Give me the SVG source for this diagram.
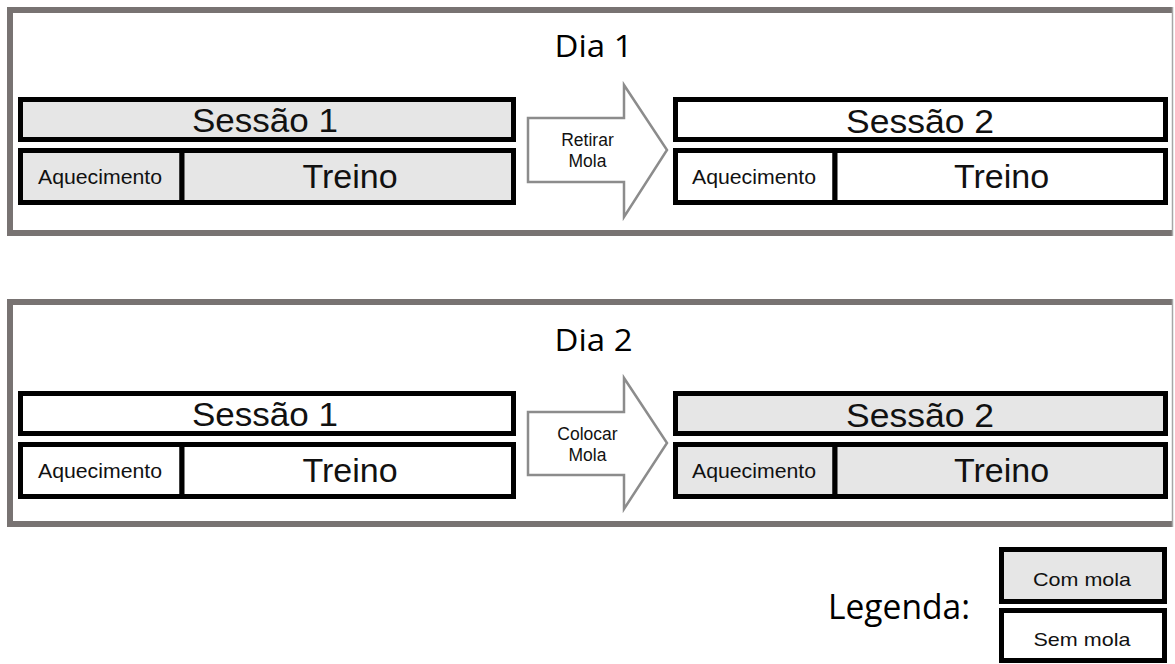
<svg xmlns="http://www.w3.org/2000/svg" width="1175" height="664" viewBox="0 0 1175 664">
<style>
.frame{fill:none;stroke:#787372;stroke-width:6}
.edge{stroke:#a6a6a6;stroke-width:1.5}
.on{fill:#e6e6e6;stroke:#000;stroke-width:5}
.off{fill:#fff;stroke:#000;stroke-width:5}
.arrow{fill:#fff;stroke:#8c8c8c;stroke-width:2.5;stroke-linejoin:miter}
.t{font-family:"Liberation Sans",Arial,sans-serif;fill:#111;text-anchor:middle}
.day{font-family:"Open Sans","Noto Sans",sans-serif;font-size:31px;fill:#000;text-anchor:middle}
.s{font-size:33px}
.tr{font-size:34px}
.aq{font-size:20px}
.ar{font-size:17.5px}
.lg{font-size:19px}
</style>
<rect width="1175" height="664" fill="#fff"/>
<g id="dia1">
<path class="frame" d="M1172,10 H10 V233 H1172"/>
<line class="edge" x1="1172.5" y1="7" x2="1172.5" y2="236"/>
<text class="day" x="593.5" y="57" textLength="78" lengthAdjust="spacingAndGlyphs">Dia 1</text>
</g>
<g id="dia2">
<path class="frame" d="M1172,302 H10 V524 H1172"/>
<line class="edge" x1="1172.5" y1="299" x2="1172.5" y2="527"/>
<text class="day" x="593.5" y="351" textLength="78" lengthAdjust="spacingAndGlyphs">Dia 2</text>
</g>
<g id="d1-sessao1">
<rect class="on" x="20.5" y="99.5" width="493" height="40"/>
<text class="t s" x="265" y="132" textLength="146" lengthAdjust="spacingAndGlyphs">Sessão 1</text>
</g>
<g id="d1-s1-aquecimento">
<rect class="on" x="20.5" y="150.5" width="161.5" height="52"/>
<text class="t aq" x="100" y="184" textLength="124" lengthAdjust="spacingAndGlyphs">Aquecimento</text>
</g>
<g id="d1-s1-treino">
<rect class="on" x="182" y="150.5" width="331.5" height="52"/>
<text class="t tr" x="350" y="188">Treino</text>
</g>
<g id="d1-sessao2">
<rect class="off" x="675.5" y="99.5" width="490" height="40"/>
<text class="t s" x="920" y="132.5" textLength="148" lengthAdjust="spacingAndGlyphs">Sessão 2</text>
</g>
<g id="d1-s2-aquecimento">
<rect class="off" x="675.5" y="150.5" width="159.5" height="52"/>
<text class="t aq" x="754" y="184" textLength="124" lengthAdjust="spacingAndGlyphs">Aquecimento</text>
</g>
<g id="d1-s2-treino">
<rect class="off" x="835" y="150.5" width="330.5" height="52"/>
<text class="t tr" x="1001.5" y="188">Treino</text>
</g>
<g id="d2-sessao1">
<rect class="off" x="20.5" y="393.5" width="493" height="40"/>
<text class="t s" x="265" y="426" textLength="146" lengthAdjust="spacingAndGlyphs">Sessão 1</text>
</g>
<g id="d2-s1-aquecimento">
<rect class="off" x="20.5" y="444.5" width="161.5" height="52"/>
<text class="t aq" x="100" y="478" textLength="124" lengthAdjust="spacingAndGlyphs">Aquecimento</text>
</g>
<g id="d2-s1-treino">
<rect class="off" x="182" y="444.5" width="331.5" height="52"/>
<text class="t tr" x="350" y="482">Treino</text>
</g>
<g id="d2-sessao2">
<rect class="on" x="675.5" y="393.5" width="490" height="40"/>
<text class="t s" x="920" y="426.5" textLength="148" lengthAdjust="spacingAndGlyphs">Sessão 2</text>
</g>
<g id="d2-s2-aquecimento">
<rect class="on" x="675.5" y="444.5" width="159.5" height="52"/>
<text class="t aq" x="754" y="478" textLength="124" lengthAdjust="spacingAndGlyphs">Aquecimento</text>
</g>
<g id="d2-s2-treino">
<rect class="on" x="835" y="444.5" width="330.5" height="52"/>
<text class="t tr" x="1001.5" y="482">Treino</text>
</g>
<g id="connectors">
<g id="arrow-retirar">
<polygon class="arrow" points="528,118 624,118 624,85 667,150 624,217 624,182 528,182"/>
<text class="t ar" x="587.5" y="146">Retirar</text>
<text class="t ar" x="587.5" y="167">Mola</text>
</g>
<g id="arrow-colocar">
<polygon class="arrow" points="528,412 624,412 624,378 667,443 624,509 624,475 528,475"/>
<text class="t ar" x="587.5" y="440">Colocar</text>
<text class="t ar" x="587.5" y="461">Mola</text>
</g>
</g>
<g id="legenda">
<text x="828" y="619" font-family="'Open Sans','Noto Sans',sans-serif" font-size="35" fill="#000" textLength="142" lengthAdjust="spacingAndGlyphs">Legenda:</text>
</g>
<g id="legend-com-mola">
<rect class="on" x="1001.5" y="549.5" width="163" height="52"/>
<text class="t lg" x="1082" y="585.5" textLength="98" lengthAdjust="spacingAndGlyphs">Com mola</text>
</g>
<g id="legend-sem-mola">
<rect class="off" x="1001.5" y="610.5" width="163" height="50"/>
<text class="t lg" x="1082" y="645.5" textLength="97" lengthAdjust="spacingAndGlyphs">Sem mola</text>
</g>
</svg>
